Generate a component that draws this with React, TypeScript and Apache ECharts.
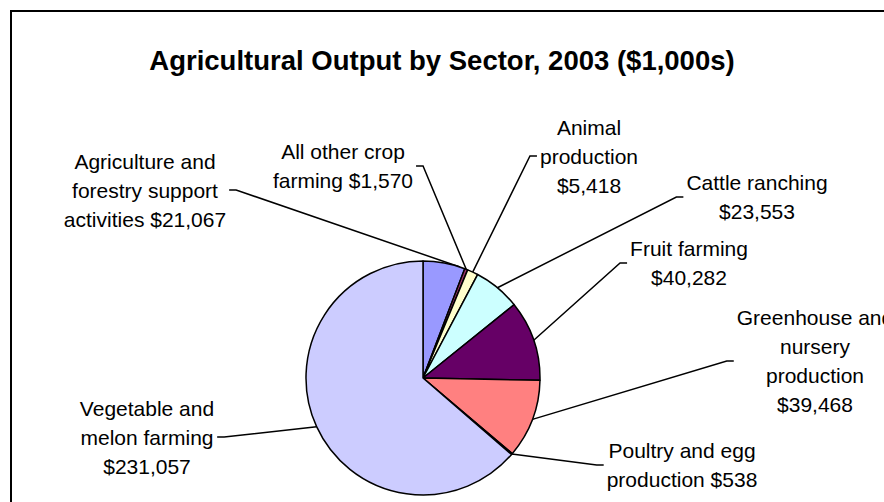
import React, { useEffect, useRef } from "react";
import * as echarts from "echarts";

const TITLE = "Agricultural Output by Sector, 2003 ($1,000s)";
const CATEGORIES = [
  "Agriculture and\nforestry support\nactivities",
  "All other crop\nfarming",
  "Animal\nproduction",
  "Cattle ranching",
  "Fruit farming",
  "Greenhouse and\nnursery\nproduction",
  "Poultry and egg\nproduction",
  "Vegetable and\nmelon farming",
];
const VALUES = [21067, 1570, 5418, 23553, 40282, 39468, 538, 231057];
const VALUE_SEP = [" ", " ", "\n", "\n", "\n", "\n", " ", "\n"];
const COLORS = ["#9999FF", "#993366", "#FFFFCC", "#CCFFFF", "#660066", "#FF8080", "#0066CC", "#CCCCFF"];

// layout (label block centres, leader-line attachment side, anchor position inside slice)
const LABEL_CENTERS = [
  [145, 190], [343, 166], [589, 156], [757, 197], [689, 263], [815, 361], [682, 465], [147, 437],
];
const LABEL_SIDE = ["right", "right", "left", "left", "left", "left", "left", "right"];
const ANCHOR_FRAC = [0.88, 0.5, 0.5, 0.5, 0.5, 0.5, 0.5, 0.5];
const CX = 423;
const CY = 378;
const R = 117;
const FONT = "'Liberation Sans', Arial, sans-serif";

export default function App() {
  const ref = useRef<HTMLDivElement>(null);
  useEffect(() => {
    document.body.style.margin = "0";
    const chart = echarts.init(ref.current!, null, { renderer: "svg" });
    const total = VALUES.reduce((a, b) => a + b, 0);
    const cum: number[] = [];
    let acc = 0;
    VALUES.forEach((v) => {
      cum.push(acc);
      acc += v;
    });
    const edgePoint = (i: number) => {
      const a = ((cum[i] + VALUES[i] * ANCHOR_FRAC[i]) / total) * Math.PI * 2;
      return [CX + R * Math.sin(a), CY - R * Math.cos(a)];
    };
    chart.setOption({
      animation: false,
      backgroundColor: "#fff",
      title: {
        text: TITLE,
        left: "center",
        top: 41,
        textStyle: { fontSize: 27.5, fontWeight: "bold", fontFamily: FONT, color: "#000" },
      },
      graphic: [
        {
          type: "rect",
          shape: { x: 11, y: 11, width: 1000, height: 700 },
          style: { fill: "none", stroke: "#000", lineWidth: 2 },
          silent: true,
        },
      ],
      series: [
        {
          type: "pie",
          center: [CX, CY],
          radius: R,
          startAngle: 90,
          clockwise: true,
          avoidLabelOverlap: false,
          minShowLabelAngle: 0,
          emphasis: { disabled: true },
          itemStyle: { borderColor: "#000", borderWidth: 1.5 },
          label: {
            show: true,
            position: "outside",
            color: "#000",
            fontSize: 21,
            lineHeight: 29,
            fontFamily: FONT,
            align: "center",
            formatter: (p: any) =>
              p.name + VALUE_SEP[p.dataIndex] + "$" + p.value.toLocaleString("en-US"),
          },
          labelLine: { show: true, length: 10, length2: 10, lineStyle: { color: "#000", width: 1.5 } },
          labelLayout: (params: any) => {
            const i = params.dataIndex;
            const [tx, ty] = LABEL_CENTERS[i];
            const w = params.labelRect.width;
            const left = LABEL_SIDE[i] === "left";
            const attachX = left ? tx - w / 2 - 3 : tx + w / 2 + 3;
            const bendX = left ? attachX - 7 : attachX + 7;
            return {
              x: tx,
              y: ty,
              align: "center",
              verticalAlign: "middle",
              hideOverlap: false,
              labelLinePoints: [edgePoint(i), [bendX, ty], [attachX, ty]],
            };
          },
          data: CATEGORIES.map((name, i) => ({
            name,
            value: VALUES[i],
            itemStyle: { color: COLORS[i] },
          })),
        },
      ],
    });
    return () => chart.dispose();
  }, []);
  return <div ref={ref} style={{ width: 884, height: 502 }} />;
}
